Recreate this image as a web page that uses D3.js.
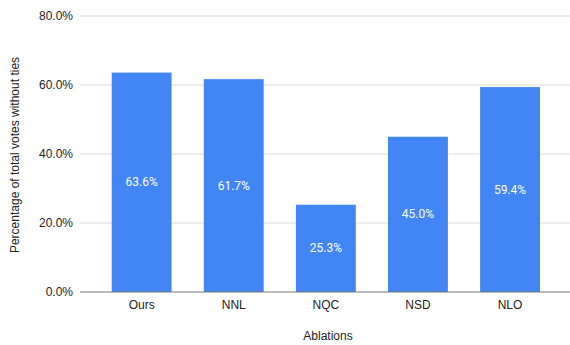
<!DOCTYPE html>
<html lang="en">
<head>
  <meta charset="UTF-8" />
  <title>Ablations</title>
  <script src="https://d3js.org/d3.v7.min.js"></script>
  <style>
    body { margin: 0; background: #fff; }
    svg { display: block; }
    text { font-family: "Liberation Sans", Arial, sans-serif; fill: #222; }
  </style>
</head>
<body>
  <svg width="570" height="345"></svg>

  <script>
    // data
    const categories = ["Ours", "NNL", "NQC", "NSD", "NLO"];
    const values = [63.6, 61.7, 25.3, 45.0, 59.4];
    const yTicks = [0, 20, 40, 60, 80];

    const svg = d3.select("svg");

    const x = d3.scaleBand()
      .domain(categories)
      .range([95.6, 556.1])
      .paddingInner(0.35)
      .paddingOuter(0.175);

    const y = d3.scaleLinear()
      .domain([0, 80])
      .range([292, 16]);

    // gridlines
    svg.selectAll("line.grid")
      .data(yTicks.filter(d => d > 0))
      .enter()
      .append("line")
      .attr("class", "grid")
      .attr("x1", 80).attr("x2", 570)
      .attr("y1", d => y(d)).attr("y2", d => y(d))
      .attr("stroke", "#d9d9d9")
      .attr("stroke-width", 1);

    // y tick labels
    svg.selectAll("text.ytick")
      .data(yTicks)
      .enter()
      .append("text")
      .attr("class", "ytick")
      .attr("x", 73)
      .attr("y", d => y(d) + 4)
      .attr("text-anchor", "end")
      .style("font-size", "12px")
      .text(d => d.toFixed(1) + "%");

    // bars
    svg.selectAll("rect.bar")
      .data(values)
      .enter()
      .append("rect")
      .attr("class", "bar")
      .attr("x", (d, i) => x(categories[i]))
      .attr("width", x.bandwidth())
      .attr("y", d => y(d))
      .attr("height", d => y(0) - y(d))
      .attr("fill", "#4285f4");

    // value labels
    svg.selectAll("text.val")
      .data(values)
      .enter()
      .append("text")
      .attr("class", "val")
      .attr("x", (d, i) => x(categories[i]) + x.bandwidth() / 2)
      .attr("y", d => (y(d) + y(0)) / 2 + 4)
      .attr("text-anchor", "middle")
      .style("font-family", "Roboto, sans-serif")
      .style("font-size", "12px")
      .style("fill", "#fff")
      .text(d => d.toFixed(1) + "%");

    // baseline
    svg.append("line")
      .attr("x1", 80).attr("x2", 570)
      .attr("y1", y(0)).attr("y2", y(0))
      .attr("stroke", "#777")
      .attr("stroke-width", 1);

    // x tick labels
    svg.selectAll("text.xtick")
      .data(categories)
      .enter()
      .append("text")
      .attr("class", "xtick")
      .attr("x", d => x(d) + x.bandwidth() / 2)
      .attr("y", 309)
      .attr("text-anchor", "middle")
      .style("font-size", "12px")
      .text(d => d);

    // axis titles
    svg.append("text")
      .attr("x", 328)
      .attr("y", 340)
      .attr("text-anchor", "middle")
      .style("font-size", "12px")
      .text("Ablations");

    svg.append("text")
      .attr("transform", "translate(19,155) rotate(-90)")
      .attr("text-anchor", "middle")
      .style("font-size", "12px")
      .text("Percentage of total votes without ties");
  </script>
</body>
</html>
